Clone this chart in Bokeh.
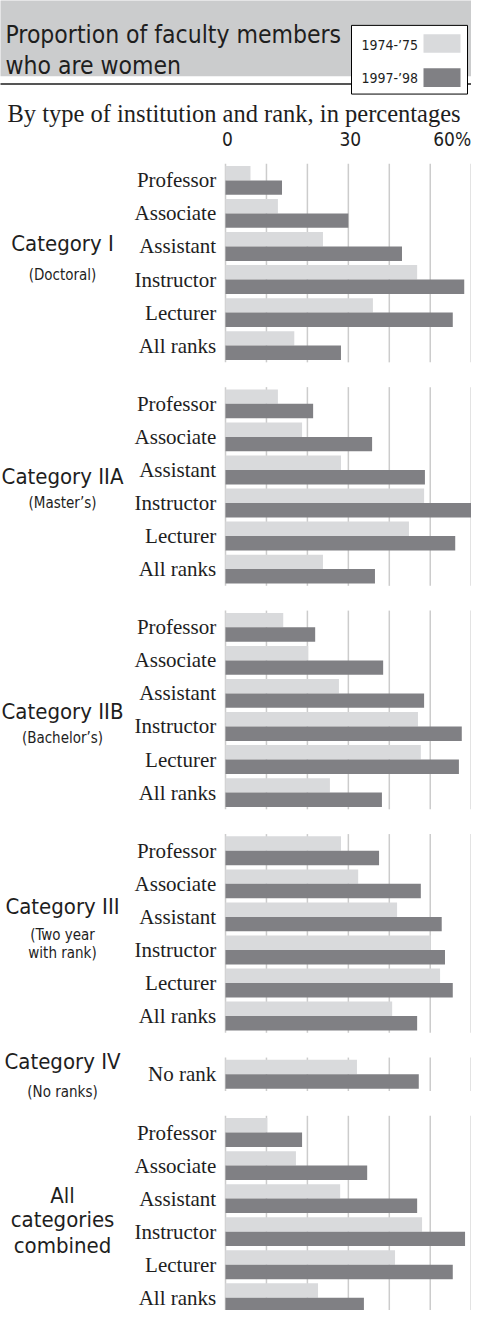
from bokeh.plotting import figure
from bokeh.models import ColumnDataSource, Range1d
from bokeh.core.properties import value
from bokeh.embed import file_html
from bokeh.resources import INLINE

# ---------------- data ----------------
title_lines = ["Proportion of faculty members", "who are women"]
subtitle = "By type of institution and rank, in percentages"
series_names = ["1974-\u201975", "1997-\u201998"]
tick_values = [0, 30]
tick_labels = ["0", "30"]
last_tick_value = 60
last_tick_label = "60%"
grid_values = [0, 10, 20, 30, 40, 50, 60]

category_titles = [["Category I"], ["Category IIA"], ["Category IIB"],
                   ["Category III"], ["Category IV"], ["All", "categories", "combined"]]
category_notes = [["(Doctoral)"], ["(Master\u2019s)"], ["(Bachelor\u2019s)"],
                  ["(Two year", "with rank)"], ["(No ranks)"], []]

ranks = ["Professor", "Associate", "Assistant", "Instructor", "Lecturer", "All ranks"]
ranks_iv = ["No rank"]

cat1_1974 = [6.1, 12.8, 23.8, 46.8, 36.0, 16.8]
cat1_1997 = [13.8, 30.0, 43.1, 58.3, 55.5, 28.2]
cat2a_1974 = [12.8, 18.7, 28.2, 48.5, 44.8, 23.8]
cat2a_1997 = [21.4, 35.8, 48.7, 61.5, 56.1, 36.5]
cat2b_1974 = [14.1, 20.2, 27.7, 47.0, 47.7, 25.5]
cat2b_1997 = [21.9, 38.5, 48.5, 57.7, 57.0, 38.2]
cat3_1974 = [28.2, 32.4, 41.9, 50.1, 52.4, 40.7]
cat3_1997 = [37.5, 47.7, 52.8, 53.6, 55.5, 46.8]
cat4_1974 = [32.1]
cat4_1997 = [47.2]
all_1974 = [10.2, 17.2, 28.0, 48.0, 41.4, 22.6]
all_1997 = [18.7, 34.6, 46.8, 58.5, 55.5, 33.8]

groups = [
    (ranks, cat1_1974, cat1_1997),
    (ranks, cat2a_1974, cat2a_1997),
    (ranks, cat2b_1974, cat2b_1997),
    (ranks, cat3_1974, cat3_1997),
    (ranks_iv, cat4_1974, cat4_1997),
    (ranks, all_1974, all_1997),
]

# ---------------- layout / style ----------------
W, H = 471, 1310
SHIFT_X = 5
Y_TOP, Y_BOTTOM = 2, 1318
PX0 = 230.0          # reference x of 0 %
SCALE = 4.095        # px per percent
ROW0, PITCH, GAP, BAR_H = 182.7, 33.2, 25.3, 14.5
LIGHT, DARK = "#d9dadc", "#808084"
GRID = "#cccccc"
INK = "#1e1e1e"
SANS = value("DejaVu Sans Condensed, DejaVu Sans")
SERIF = value("Liberation Serif")
CAT_X_PX = 67
title_off = [[-19.2], [-9.7], [2.0], [-26.7], [-12.7], [-19.7, 4.5, 30.3]]
note_off = [[11.6], [16.3], [27.8], [1.3, 19.8], [17.3], []]


def px2x(px):
    return (px - PX0) / SCALE


p = figure(width=W, height=H, output_backend="svg", toolbar_location=None,
           x_range=Range1d(px2x(SHIFT_X), px2x(SHIFT_X + W)),
           y_range=Range1d(Y_BOTTOM, Y_TOP),
           min_border=0, outline_line_color=None)
p.axis.visible = False
p.grid.visible = False
p.background_fill_color = "white"
p.border_fill_color = "white"

# header
p.quad(left=px2x(3), right=px2x(520), top=-10, bottom=78, fill_color="#cbcccd", line_color=None)
p.quad(left=px2x(-10), right=px2x(520), top=85, bottom=87, fill_color="#555555", line_color=None)
p.text(x=[px2x(10), px2x(10)], y=[36, 67], text=title_lines, text_font=SANS,
       text_font_size="24.5px", text_color=INK, text_baseline="alphabetic")

# legend
p.quad(left=px2x(356), right=px2x(472), top=27, bottom=96, fill_color="white",
       line_color="black", line_width=1)
p.quad(left=[px2x(428)] * 2, right=[px2x(465)] * 2, top=[36, 70], bottom=[54.5, 89],
       fill_color=[LIGHT, DARK], line_color=None)
p.text(x=[px2x(366)] * 2, y=[46.5, 80], text=series_names, text_font=SANS,
       text_font_size="14px", text_color=INK, text_baseline="middle")

# subtitle
p.text(x=[px2x(12)], y=[116], text=[subtitle], text_font=SERIF, text_font_size="24.5px",
       text_color=INK, text_baseline="alphabetic")

# tick labels
tick_src = ColumnDataSource(dict(x=tick_values, y=[141.5] * len(tick_values), t=tick_labels))
p.text(x="x", y="y", text="t", source=tick_src, text_font=SANS,
       text_font_size="19px", text_color=INK, text_align="center",
       text_baseline="middle", x_offset=2)
p.text(x=[last_tick_value], y=[141.5], text=[last_tick_label], text_font=SANS,
       text_font_size="19px", text_color=INK, text_align="right",
       text_baseline="middle")

# bars, gridlines, labels
row = 0
for g, (labels, v74, v97) in enumerate(groups):
    n = len(labels)
    ys = [ROW0 + PITCH * (row + i) + GAP * g for i in range(n)]
    top = ys[0] - BAR_H - 2.3
    bot = ys[-1] + BAR_H + 2.3
    p.segment(x0=grid_values, x1=grid_values, y0=[top] * len(grid_values),
              y1=[bot] * len(grid_values), line_color=GRID, line_width=1.5)
    src = ColumnDataSource(dict(y74=[y - BAR_H / 2 for y in ys],
                                y97=[y + BAR_H / 2 for y in ys],
                                v74=v74, v97=v97, ylab=ys, lab=labels))
    p.hbar(y="y74", right="v74", left=0, height=BAR_H, source=src,
           fill_color=LIGHT, line_color=None)
    p.hbar(y="y97", right="v97", left=0, height=BAR_H, source=src,
           fill_color=DARK, line_color=None)
    p.text(x=px2x(220.7), y="ylab", text="lab", source=src, text_font=SERIF,
           text_font_size="21px", text_color=INK, text_align="right",
           text_baseline="middle")
    center = (ys[0] + ys[-1]) / 2
    p.text(x=[px2x(CAT_X_PX)] * len(category_titles[g]),
           y=[center + o for o in title_off[g]], text=category_titles[g],
           text_font=SANS, text_font_size="22px", text_color=INK,
           text_align="center", text_baseline="middle")
    if category_notes[g]:
        p.text(x=[px2x(CAT_X_PX)] * len(category_notes[g]),
               y=[center + o for o in note_off[g]], text=category_notes[g],
               text_font=SANS, text_font_size="15px", text_color=INK,
               text_align="center", text_baseline="middle")
    row += n

open("out.html", "w").write(file_html(p, INLINE))
